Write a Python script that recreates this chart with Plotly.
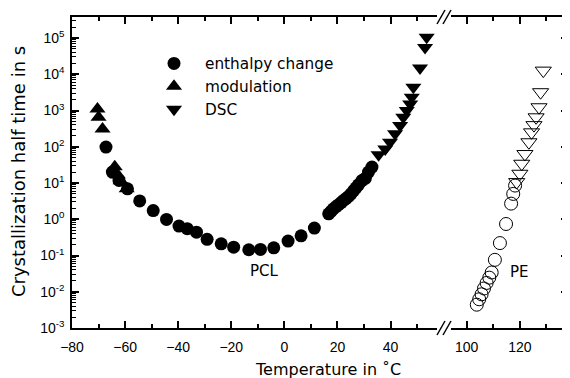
import plotly.graph_objects as go

# ---- data ----
pcl_enth_T = [-67.2, -64.8, -62.3, -59.1, -54.5, -49.4, -44.4, -39.7, -36.6, -33.1, -29.1,
              -23.8, -19.1, -13.4, -9.0, -4.0, 1.4, 6.3, 11.3,
              16.7, 17.6, 18.5, 19.5, 20.4, 21.4, 22.3, 23.2, 24.2, 25.1, 26.1, 27.0,
              27.9, 29.2, 30.5, 31.7, 33.0]
pcl_enth_t = [98, 20, 11.8, 6.9, 3.2, 1.74, 0.99, 0.65, 0.55, 0.44, 0.28,
              0.21, 0.17, 0.144, 0.147, 0.163, 0.25, 0.35, 0.57,
              1.41, 1.66, 1.95, 2.24, 2.51, 2.88, 3.31, 3.72, 4.27, 5.0, 6.17, 7.4,
              8.9, 11.7, 13.5, 20, 27.5]

pcl_mod_T = [-70.4, -70.0, -68.5, -63.9, -62.8, -61.7, -59.4]
pcl_mod_t = [1100, 650, 310, 28, 17, 11.5, 6.9]

pcl_dsc_T = [35.5, 38.0, 39.8, 41.7, 43.6, 44.8, 46.1, 47.4, 48.0, 48.6, 51.1, 53.0, 53.6]
pcl_dsc_t = [60, 87, 133, 228, 384, 650, 1000, 1520, 2330, 4400, 14800, 55000, 105000]

pe_enth_T = [103.8, 104.7, 105.6, 106.5, 107.5, 108.5, 109.4, 110.6, 112.5, 114.8, 116.7, 117.5, 118.2]
pe_enth_t = [0.0044, 0.0062, 0.0085, 0.0123, 0.0175, 0.0245, 0.034, 0.076, 0.22, 0.74, 2.7, 5, 8.5]

pe_dsc_T = [118.8, 120.0, 120.7, 121.9, 123.4, 124.4, 125.3, 126.1, 127.2, 127.8, 128.8]
pe_dsc_t = [10.6, 18, 34, 63, 133, 250, 395, 650, 1230, 3200, 12600]

y_tickvals = [1e-3, 1e-2, 1e-1, 1e0, 1e1, 1e2, 1e3, 1e4, 1e5]
y_ticktext = ["10<sup>-3</sup>", "10<sup>-2</sup>", "10<sup>-1</sup>", "10<sup>0</sup>",
              "10<sup>1</sup>", "10<sup>2</sup>", "10<sup>3</sup>", "10<sup>4</sup>", "10<sup>5</sup>"]
x1_tickvals = [-80, -60, -40, -20, 0, 20, 40]
x2_tickvals = [100, 120]

FONT = "Liberation Sans, Arial, sans-serif"
BLACK = "#000000"

fig = go.Figure()

fig.add_trace(go.Scatter(x=pcl_enth_T, y=pcl_enth_t, mode="markers", name="enthalpy change",
                         marker=dict(symbol="circle", size=13, color=BLACK),
                         xaxis="x", yaxis="y"))
fig.add_trace(go.Scatter(x=pcl_mod_T, y=pcl_mod_t, mode="markers", name="modulation",
                         marker=dict(symbol="triangle-up", size=14, color=BLACK),
                         xaxis="x", yaxis="y"))
fig.add_trace(go.Scatter(x=pcl_dsc_T, y=pcl_dsc_t, mode="markers", name="DSC",
                         marker=dict(symbol="triangle-down", size=14, color=BLACK),
                         xaxis="x", yaxis="y"))
fig.add_trace(go.Scatter(x=pe_enth_T, y=pe_enth_t, mode="markers", showlegend=False,
                         marker=dict(symbol="circle-open", size=13, color=BLACK, line=dict(width=1)),
                         xaxis="x2", yaxis="y2"))
fig.add_trace(go.Scatter(x=pe_dsc_T, y=pe_dsc_t, mode="markers", showlegend=False,
                         marker=dict(symbol="triangle-down-open", size=14, color=BLACK, line=dict(width=1)),
                         xaxis="x2", yaxis="y2"))

# target plot-area edges in window pixels; page body adds an 8px offset
OFF = 8
FIG_W, FIG_H = 570 - OFF, 378 - OFF
L, R, T, B = 72, 568, 17, 328
W = R - L
H = B - T
def px(x):
    return (x - L) / W
def py(y):
    return (B - y) / H

d1_end = px(437)
d2_start = px(451)

axis_common = dict(showline=True, linecolor=BLACK, linewidth=1.5, ticks="inside",
                   ticklen=7, tickwidth=1.5, tickcolor=BLACK, showgrid=False, zeroline=False,
                   tickfont=dict(family=FONT, size=14, color=BLACK))
minor_x = dict(dtick=10, tick0=0, ticks="inside", ticklen=4, tickwidth=1.5, tickcolor=BLACK)
minor_y = dict(dtick="D1", ticks="inside", ticklen=4, tickwidth=1, tickcolor=BLACK)

fig.update_layout(
    width=FIG_W, height=FIG_H,
    margin=dict(l=L - OFF, r=(570 - OFF) - (R - OFF), t=T - OFF, b=(378 - OFF) - (B - OFF)),
    paper_bgcolor="white", plot_bgcolor="white",
    font=dict(family=FONT, color=BLACK),
    xaxis=dict(domain=[0, d1_end], range=[-80, 57.5], anchor="y", mirror="ticks",
               tickmode="array", tickvals=x1_tickvals, ticklabelstandoff=5,
               minor=minor_x, **axis_common),
    xaxis2=dict(domain=[d2_start, 1], range=[94.1, 138.1], anchor="y2", mirror="ticks",
                tickmode="array", tickvals=x2_tickvals, ticklabelstandoff=5,
                minor=minor_x, **axis_common),
    yaxis=dict(type="log", range=[-3, 5.58], anchor="x", side="left",
               tickmode="array", tickvals=y_tickvals, ticktext=y_ticktext, ticklabelstandoff=3,
               minor=minor_y, **axis_common),
    yaxis2=dict(type="log", range=[-3, 5.58], anchor="x2", side="right", matches="y",
                tickmode="array", tickvals=y_tickvals, showticklabels=False,
                minor=minor_y, **axis_common),
    legend=dict(x=px(143), y=py(47), xanchor="left", yanchor="top",
                bgcolor="rgba(0,0,0,0)", borderwidth=0, itemwidth=52,
                font=dict(family="DejaVu Sans", size=15.3, color=BLACK)),
    showlegend=True,
)

# axis break marks
shapes = []
for (yb, yt) in [(335, 321), (24, 10)]:
    for dx in (0, 6):
        shapes.append(dict(type="line", xref="paper", yref="paper",
                           x0=px(437 + dx), y0=py(yb), x1=px(445 + dx), y1=py(yt),
                           line=dict(color=BLACK, width=1.5)))
fig.update_layout(shapes=shapes)

fig.add_annotation(text="PCL", x=-7.5, y=-1.42, xref="x", yref="y", showarrow=False,
                   font=dict(family="DejaVu Sans", size=15, color=BLACK))
fig.add_annotation(text="PE", x=120, y=-1.45, xref="x2", yref="y2", showarrow=False,
                   font=dict(family="DejaVu Sans", size=15, color=BLACK))
fig.add_annotation(text="Temperature in ˚C", x=px(328), y=py(369), xref="paper", yref="paper",
                   showarrow=False, xanchor="center", yanchor="middle",
                   font=dict(family="DejaVu Sans", size=16, color=BLACK))
fig.add_annotation(text="Crystallization half time in s", x=px(18), y=py(172), xref="paper", yref="paper",
                   showarrow=False, xanchor="center", yanchor="middle", textangle=-90,
                   font=dict(family="DejaVu Sans", size=18, color=BLACK))

fig.write_html("out.html")
